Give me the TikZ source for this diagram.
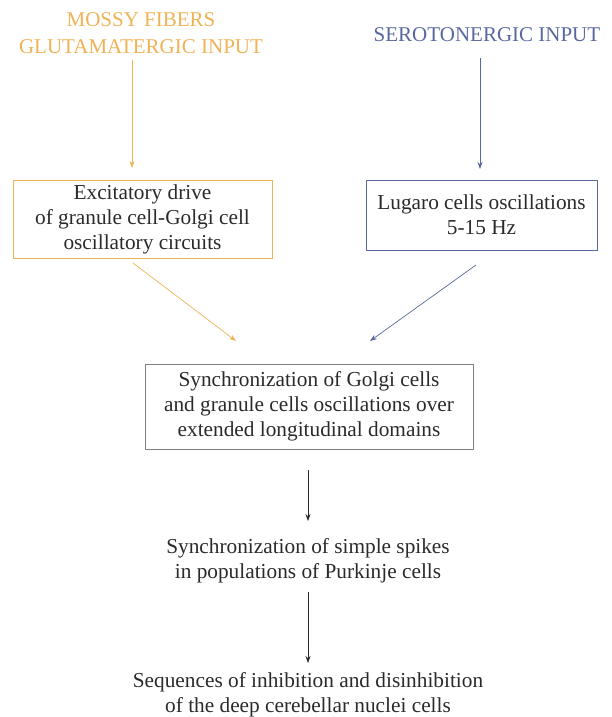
\documentclass[tikz,border=0pt]{standalone}
\usepackage{fontspec}
\setmainfont{Liberation Serif}
\usetikzlibrary{arrows.meta}
\definecolor{orng}{HTML}{F0B255}
\definecolor{blu}{HTML}{5A68A0}
\definecolor{txt}{HTML}{2A2A2A}
\begin{document}
\begin{tikzpicture}[x=1pt,y=-1pt,
  lbl/.style={font=\rmfamily\fontsize{21.3}{25}\selectfont, align=center, text=txt, inner sep=0pt},
  head/.style={font=\rmfamily\fontsize{21}{27}\selectfont, align=center, inner sep=0pt},
  box/.style={draw, line width=0.8pt, minimum width=#1, align=center, inner sep=0pt},
  arr/.style={line width=0.7pt, -{Stealth[length=7pt,width=5pt]}}]
\useasboundingbox (0,0) rectangle (611,717);
\node[head, text=orng] (mf) at (141,33.5) {MOSSY FIBERS\\GLUTAMATERGIC INPUT};
\node[head, text=blu] (ser) at (487,35) {SEROTONERGIC INPUT};
\node[lbl, box=259pt, draw=orng, minimum height=78pt] (exc) at (142.5,219) {Excitatory drive\\of granule cell-Golgi cell\\oscillatory circuits};
\node[lbl, box=231pt, draw=blu, minimum height=70pt] (lug) at (481.5,215) {Lugaro cells oscillations\\5-15 Hz};
\node[lbl, box=328pt, draw=gray, minimum height=85pt] (syn) at (309,406.5) {Synchronization of Golgi cells\\and granule cells oscillations over\\extended longitudinal domains};
\node[lbl] (pur) at (308,560.5) {Synchronization of simple spikes\\in populations of Purkinje cells};
\node[lbl] (dcn) at (308,694.5) {Sequences of inhibition and disinhibition\\of the deep cerebellar nuclei cells};
\coordinate (m1) at (132,60);
\coordinate (m2) at (132,168);
\coordinate (s1) at (480,58);
\coordinate (s2) at (480,169);
\coordinate (ea) at (133,263);
\coordinate (eb) at (236,341);
\coordinate (la) at (476,265);
\coordinate (lb) at (370,341);
\coordinate (p1) at (308,470);
\coordinate (p2) at (308,521);
\coordinate (d1) at (308,592);
\coordinate (d2) at (308,663);
\draw[arr, orng] (m1) -- (m2);
\draw[arr, blu] (s1) -- (s2);
\draw[arr, orng] (ea) -- (eb);
\draw[arr, blu] (la) -- (lb);
\draw[arr, txt] (p1) -- (p2);
\draw[arr, txt] (d1) -- (d2);
\end{tikzpicture}
\end{document}
